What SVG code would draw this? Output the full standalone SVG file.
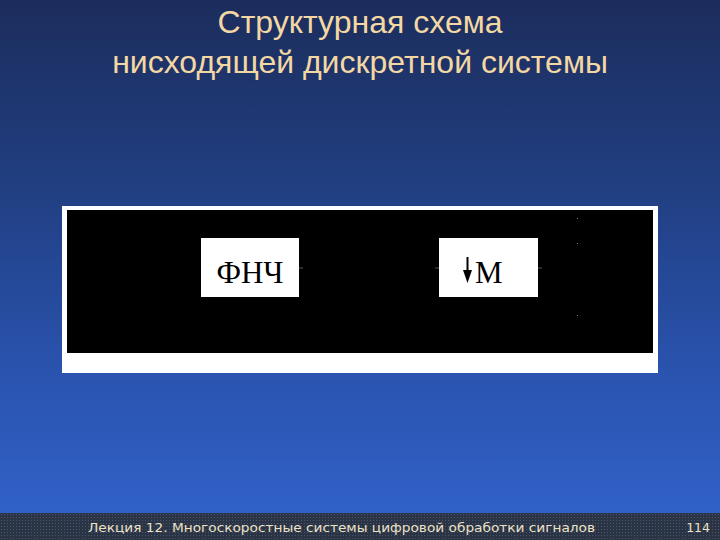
<svg xmlns="http://www.w3.org/2000/svg" width="720" height="540" viewBox="0 0 720 540">
<defs>
<linearGradient id="bg" x1="0" y1="0" x2="0" y2="1">
<stop offset="0" stop-color="#1c2d5c"/>
<stop offset="0.35" stop-color="#213f82"/>
<stop offset="0.7" stop-color="#2a54b0"/>
<stop offset="1" stop-color="#3264cc"/>
</linearGradient>
<pattern id="dots" width="3" height="3" patternUnits="userSpaceOnUse">
<rect width="3" height="3" fill="#2b3444"/>
<rect x="1" y="1" width="1" height="1" fill="#4a5670"/>
</pattern>
<style>
.title{font-family:"Liberation Sans","DejaVu Sans",sans-serif;font-size:32px;fill:#f4d8a4;text-anchor:middle}
.foot{font-family:"DejaVu Sans","Liberation Sans",sans-serif;font-size:12.5px;fill:#ece2c8}
.box{fill:#fff}
.lbl{font-family:"Liberation Serif","Times New Roman",serif;font-size:31px;fill:#000}
.tick{stroke:#555;stroke-width:1}
.dot{fill:#888}
</style>
</defs>
<rect width="720" height="540" fill="url(#bg)"/>
<rect x="0" y="513" width="720" height="27" fill="url(#dots)"/>
<text class="title" x="360" y="33">Структурная схема</text>
<text class="title" x="360" y="73">нисходящей дискретной системы</text>
<rect x="62" y="206" width="596" height="167" fill="#fff"/>
<rect x="67" y="210" width="586" height="143" fill="#000"/>
<g id="lpf">
<rect class="box" x="201" y="238" width="98" height="59"/>
<text class="lbl" x="250" y="283" text-anchor="middle">ФНЧ</text>
</g>
<g id="down">
<rect class="box" x="439" y="238" width="99" height="59"/>
<line x1="467.5" y1="257" x2="467.5" y2="272" stroke="#000" stroke-width="2"/>
<polygon points="463,270 472,270 467.5,283" fill="#000"/>
<text class="lbl" x="475" y="283">M</text>
</g>
<g id="connectors">
<line class="tick" x1="299" y1="268" x2="303" y2="268"/>
<line class="tick" x1="435" y1="268" x2="439" y2="268"/>
<line class="tick" x1="538" y1="268" x2="542" y2="268"/>
<rect class="dot" x="577" y="218" width="1" height="1"/>
<rect class="dot" x="577" y="243" width="1" height="1"/>
<rect class="dot" x="577" y="315" width="1" height="1"/>
</g>
<text class="foot" x="88" y="532" textLength="507" lengthAdjust="spacingAndGlyphs">Лекция 12. Многоскоростные  системы цифровой  обработки  сигналов</text>
<text class="foot" x="710" y="532" text-anchor="end">114</text>
</svg>
